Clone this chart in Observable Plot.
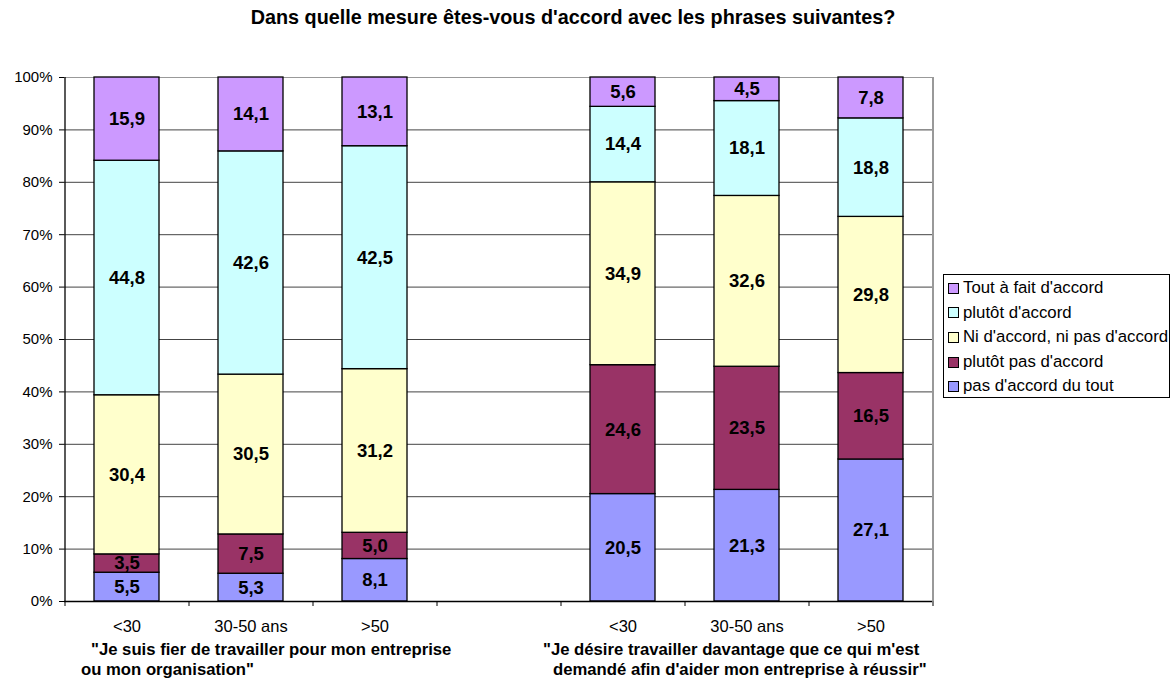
<!DOCTYPE html>
<html><head><meta charset="utf-8">
<script src="https://cdn.jsdelivr.net/npm/d3@7"></script>
<script src="https://cdn.jsdelivr.net/npm/@observablehq/plot@0.6"></script>
<style>
body{margin:0;background:#fff;font-family:Arial,"Liberation Sans",sans-serif;color:#000;}
#wrap{position:relative;width:1170px;height:681px;overflow:hidden;}
#title{height:40px;line-height:34px;font-size:19.8px;font-weight:bold;text-align:center;padding-right:24px;box-sizing:border-box;}
#legend{position:absolute;left:943px;top:274px;width:227px;height:124px;border:1px solid #000;box-sizing:border-box;padding-top:1px;}
.li{height:24.6px;line-height:24.6px;font-size:16.8px;white-space:nowrap;display:flex;align-items:center;}
.sw{width:9px;height:9px;border:1px solid #000;margin-left:4px;margin-right:4px;flex:none;}
.grp{position:absolute;font-size:16.7px;font-weight:bold;line-height:20px;white-space:pre;}
</style></head>
<body><div id="wrap"><div id="title"></div><div id="chart"></div><div id="legend"></div></div>
<script>
const title = "Dans quelle mesure êtes-vous d'accord avec les phrases suivantes?";
const series = ["pas d'accord du tout", "plutôt pas d'accord", "Ni d'accord, ni pas d'accord", "plutôt d'accord", "Tout à fait d'accord"];
const colors = ["#9999ff", "#993366", "#ffffcc", "#ccffff", "#cc99ff"];
const ages = ["<30", "30-50 ans", ">50"];
const statements = [
  ["\"Je suis fier de travailler pour mon entreprise", "ou mon organisation\""],
  ["\"Je désire travailler davantage que ce qui m'est", "demandé afin d'aider mon entreprise à réussir\""]
];
// values per bar: statement 1 (<30, 30-50, >50), statement 2 (<30, 30-50, >50)
const pasDuTout  = [5.5, 5.3, 8.1, 20.5, 21.3, 27.1];
const plutotPas  = [3.5, 7.5, 5.0, 24.6, 23.5, 16.5];
const niNi       = [30.4, 30.5, 31.2, 34.9, 32.6, 29.8];
const plutot     = [44.8, 42.6, 42.5, 14.4, 18.1, 18.8];
const toutAFait  = [15.9, 14.1, 13.1, 5.6, 4.5, 7.8];
const yTicks = [0, 0.1, 0.2, 0.3, 0.4, 0.5, 0.6, 0.7, 0.8, 0.9, 1];

const seriesValues = [pasDuTout, plutotPas, niNi, plutot, toutAFait];
const barKeys = [...ages.map(a => "A|" + a), "gap", ...ages.map(a => "B|" + a)];
const dataKeys = barKeys.filter(k => k !== "gap");
const data = [];
seriesValues.forEach((vals, si) => vals.forEach((v, bi) => data.push({key: dataKeys[bi], series: series[si], value: v})));

const W = 1170, H = 641, mL = 64, mR = 238, mT = 37, mB = 80;
const step = (W - mL - mR) / barKeys.length;
const fmt = v => v.toFixed(1).replace(".", ",");
const stackOpts = {offset: "normalize", x: "key", y: "value", z: "series", order: series};

document.getElementById("title").textContent = title;

const chart = Plot.plot({
  width: W, height: H, marginLeft: mL, marginRight: mR, marginTop: mT, marginBottom: mB,
  style: {fontFamily: "Arial, 'Liberation Sans', sans-serif", fontSize: "16px", color: "#000", background: "#fff"},
  x: {domain: barKeys, paddingInner: 0.476, paddingOuter: 0.238, label: null},
  y: {domain: [0, 1], label: null},
  color: {domain: series, range: colors},
  marks: [
    Plot.ruleY(yTicks.slice(1, -1), {stroke: "#444", strokeWidth: 1}),
    Plot.ruleY([1], {stroke: "#999", strokeWidth: 1}),
    Plot.ruleX([barKeys[barKeys.length - 1]], {dx: step / 2, stroke: "#999", strokeWidth: 2}),
    Plot.barY(data, Plot.stackY({...stackOpts, fill: "series", stroke: "#000", strokeWidth: 1.3})),
    Plot.text(data, Plot.stackY({...stackOpts, text: d => fmt(d.value), fontWeight: "bold", fontSize: 18.5, fill: "#000"})),
    Plot.ruleX([barKeys[0]], {dx: -step / 2, stroke: "#000", strokeWidth: 1.3}),
    Plot.ruleY([0], {stroke: "#000", strokeWidth: 1.3}),
    Plot.axisY({ticks: yTicks, tickFormat: d3.format(".0%"), tickSize: 5, tickPadding: 7, fontSize: 15, label: null}),
    Plot.axisX({tickSize: 0, tickPadding: 19, fontSize: 16.5, label: null, tickFormat: k => k === "gap" ? "" : k.split("|")[1]}),
    Plot.axisX(barKeys, {tickSize: 5, tickFormat: () => "", dx: -step / 2, label: null}),
    Plot.axisX([barKeys[barKeys.length - 1]], {tickSize: 5, tickFormat: () => "", dx: step / 2, label: null})
  ]
});
document.getElementById("chart").appendChild(chart);

// legend (top to bottom: reverse order)
const legend = document.getElementById("legend");
[...series].reverse().forEach(s => {
  const row = document.createElement("div"); row.className = "li";
  const sw = document.createElement("span"); sw.className = "sw"; sw.style.background = colors[series.indexOf(s)];
  const tx = document.createElement("span"); tx.textContent = s;
  row.appendChild(sw); row.appendChild(tx); legend.appendChild(row);
});

// group labels
const wrap = document.getElementById("wrap");
const grpPos = [{left: 81, indent1: 10, indent2: 0}, {left: 543, indent1: 0, indent2: 10}];
statements.forEach((lines, i) => {
  const g = document.createElement("div"); g.className = "grp";
  g.style.left = grpPos[i].left + "px"; g.style.top = "640px";
  const l1 = document.createElement("div"); l1.style.paddingLeft = grpPos[i].indent1 + "px"; l1.textContent = lines[0];
  const l2 = document.createElement("div"); l2.style.paddingLeft = grpPos[i].indent2 + "px"; l2.textContent = lines[1];
  g.appendChild(l1); g.appendChild(l2); wrap.appendChild(g);
});
</script></body></html>
